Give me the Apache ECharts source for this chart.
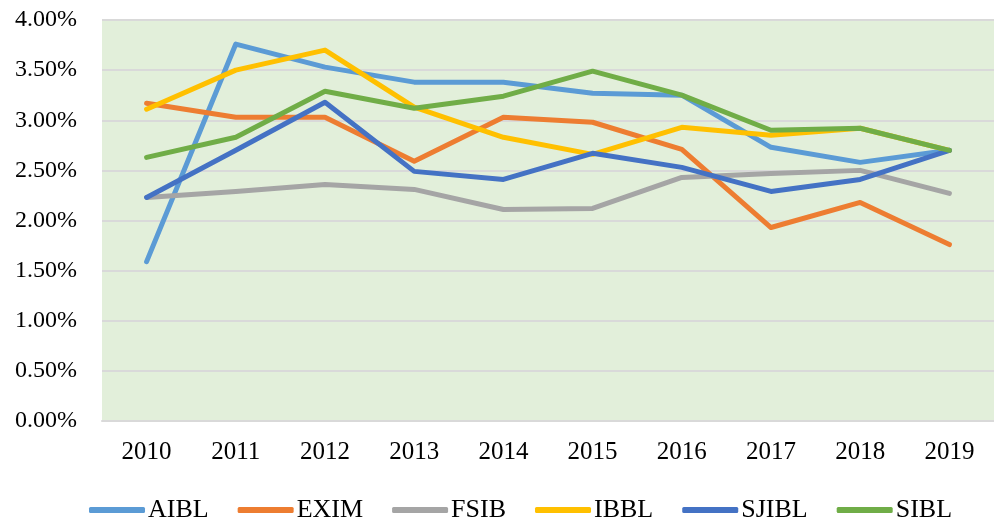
<!DOCTYPE html>
<html><head><meta charset="utf-8">
<script src="https://cdn.jsdelivr.net/npm/echarts@6/dist/echarts.min.js"></script>
<style>html,body{margin:0;padding:0;background:#fff}#c{width:994px;height:520px}</style>
</head><body><div id="c"></div>
<script>
var years = ['2010','2011','2012','2013','2014','2015','2016','2017','2018','2019'];
var AIBL  = [1.59, 3.76, 3.53, 3.38, 3.38, 3.27, 3.25, 2.73, 2.58, 2.70];
var EXIM  = [3.17, 3.03, 3.03, 2.59, 3.03, 2.98, 2.71, 1.93, 2.18, 1.76];
var FSIB  = [2.23, 2.29, 2.36, 2.31, 2.11, 2.12, 2.43, 2.47, 2.50, 2.27];
var IBBL  = [3.11, 3.50, 3.70, 3.13, 2.83, 2.66, 2.93, 2.85, 2.92, 2.70];
var SJIBL = [2.23, 2.70, 3.18, 2.49, 2.41, 2.67, 2.53, 2.29, 2.41, 2.70];
var SIBL  = [2.63, 2.83, 3.29, 3.12, 3.24, 3.49, 3.25, 2.90, 2.92, 2.70];
var names = ['AIBL','EXIM','FSIB','IBBL','SJIBL','SIBL'];
var colors = ['#5b9bd5','#ed7d31','#a5a5a5','#ffc000','#4472c4','#70ad47'];
var dataSets = [AIBL, EXIM, FSIB, IBBL, SJIBL, SIBL];
var font = '"Liberation Serif","Times New Roman",serif';

var chart = echarts.init(document.getElementById('c'), null, {renderer:'canvas'});
chart.setOption({
  animation: false,
  color: colors,
  grid: {left: 102, top: 20, width: 900, height: 401, backgroundColor: '#e2efda', show: true, borderWidth: 0},
  xAxis: {
    type: 'category', data: years, boundaryGap: true,
    axisLine: {show: true, lineStyle: {color: '#d9d9d9', width: 2}},
    axisTick: {show: false},
    axisLabel: {color: '#000', fontFamily: font, fontSize: 25, margin: 19}
  },
  yAxis: {
    type: 'value', min: 0, max: 4, interval: 0.5,
    axisLine: {show: false}, axisTick: {show: false},
    splitLine: {lineStyle: {color: '#d9d9d9', width: 2}},
    axisLabel: {color: '#000', fontFamily: font, fontSize: 24, margin: 25,
      formatter: function(v){ return v.toFixed(2) + '%'; }}
  },
  legend: {
    top: 492, left: 84, itemWidth: 56, itemHeight: 6, itemGap: 29,
    icon: 'roundRect',
    textStyle: {color: '#000', fontFamily: font, fontSize: 26, padding: [0,0,0,-2]},
    data: names
  },
  series: names.map(function(n, i){
    return {
      name: n, type: 'line', data: dataSets[i], symbol: 'none',
      lineStyle: {width: 5, color: colors[i], cap: 'round', join: 'round'},
      itemStyle: {color: colors[i]}
    };
  })
});
</script></body></html>
